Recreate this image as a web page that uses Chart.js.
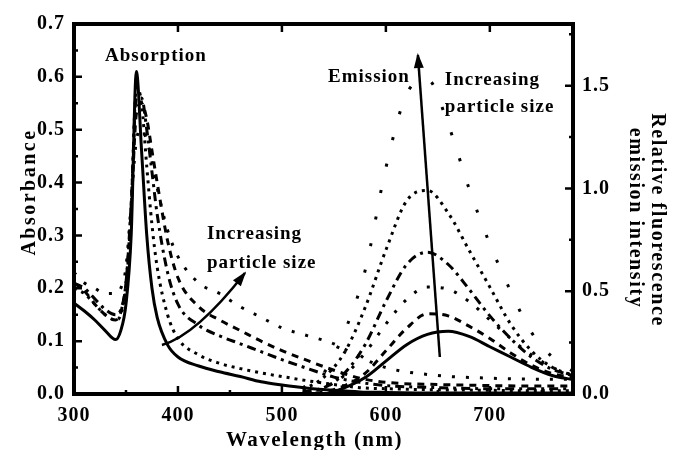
<!DOCTYPE html>
<html>
<head>
<meta charset="utf-8">
<script src="https://cdn.jsdelivr.net/npm/chart.js@4.4.1/dist/chart.umd.min.js"></script>
<style>
  html, body { margin: 0; padding: 0; background: #fff; }
  #wrap { width: 675px; height: 450px; }
</style>
</head>
<body>
<div id="wrap"><canvas id="chart"></canvas></div>
<script>
// Comprimentos de onda (nm)
var wlAbs = [300, 310, 320, 330, 340, 345, 350, 355, 360, 365, 370, 375, 380, 390, 400, 420, 440, 460, 480, 500, 525, 550, 575, 600, 650, 700, 750, 780]
var wlEm = [520, 540, 560, 580, 600, 620, 640, 660, 680, 700, 720, 740, 760, 780]

// Absorbância (eixo esquerdo), do menor para o maior tamanho de partícula
var abs1 = [0.172, 0.157, 0.14, 0.12, 0.103, 0.12, 0.17, 0.3, 0.61, 0.46, 0.3, 0.2, 0.145, 0.093, 0.07, 0.053, 0.042, 0.033, 0.023, 0.017, 0.011, 0.007, 0.004, 0.003, 0.002, 0.002, 0.002, 0.002]
var abs2 = [0.2, 0.19, 0.17, 0.15, 0.14, 0.15, 0.2, 0.35, 0.58, 0.55, 0.43, 0.32, 0.24, 0.15, 0.105, 0.074, 0.058, 0.048, 0.04, 0.033, 0.025, 0.018, 0.012, 0.01, 0.008, 0.007, 0.006, 0.006]
var abs3 = [0.21, 0.2, 0.18, 0.16, 0.15, 0.16, 0.21, 0.36, 0.56, 0.56, 0.5, 0.42, 0.34, 0.23, 0.17, 0.13, 0.11, 0.095, 0.08, 0.065, 0.048, 0.032, 0.022, 0.016, 0.012, 0.01, 0.01, 0.01]
var abs4 = [0.21, 0.195, 0.17, 0.15, 0.14, 0.155, 0.21, 0.35, 0.53, 0.55, 0.52, 0.46, 0.4, 0.29, 0.22, 0.165, 0.14, 0.12, 0.1, 0.082, 0.063, 0.045, 0.03, 0.022, 0.018, 0.016, 0.015, 0.015]
var abs5 = [0.23, 0.21, 0.2, 0.19, 0.19, 0.2, 0.24, 0.36, 0.48, 0.5, 0.48, 0.44, 0.39, 0.31, 0.26, 0.21, 0.19, 0.165, 0.145, 0.125, 0.11, 0.095, 0.07, 0.05, 0.035, 0.03, 0.028, 0.028]

// Emissão relativa (eixo direito)
var em1 = [0, 0, 0.03, 0.08, 0.16, 0.24, 0.29, 0.305, 0.28, 0.23, 0.18, 0.13, 0.09, 0.07]
var em2 = [0, 0.01, 0.04, 0.1, 0.21, 0.32, 0.39, 0.38, 0.33, 0.27, 0.2, 0.14, 0.1, 0.08]
var em3 = [0.01, 0.03, 0.09, 0.2, 0.34, 0.46, 0.52, 0.51, 0.45, 0.36, 0.27, 0.19, 0.13, 0.09]
var em4 = [0.01, 0.03, 0.1, 0.24, 0.45, 0.63, 0.69, 0.63, 0.51, 0.38, 0.27, 0.18, 0.12, 0.09]
var em5 = [0.02, 0.08, 0.2, 0.42, 0.7, 0.94, 0.99, 0.88, 0.7, 0.52, 0.34, 0.21, 0.13, 0.09]
var em6 = [0.03, 0.1, 0.3, 0.6, 1.1, 1.46, 1.53, 1.31, 1.0, 0.73, 0.5, 0.3, 0.18, 0.11]

// Rótulos dos eixos
var xTicks = [300, 400, 500, 600, 700]
var yTicks = [0, 0.1, 0.2, 0.3, 0.4, 0.5, 0.6, 0.7]
var y2Ticks = [0, 0.5, 1.0, 1.5]

// Estilos de linha (tracejados)
var absDash = [[], [3, 5], [9, 5, 3, 5], [7, 6], [3, 11]]
var emDash = [[], [7, 6], [3, 11], [9, 5, 3, 5], [3, 5], [3, 24]]

function pts(xs, ys) {
    return xs.map(function (x, i) { return { x: x, y: ys[i] } })
}

var datasets = []
;[abs1, abs2, abs3, abs4, abs5].forEach(function (s, i) {
    datasets.push({ label: 'Abs ' + (i + 1), data: pts(wlAbs, s), yAxisID: 'y', borderDash: absDash[i] })
})
;[em1, em2, em3, em4, em5, em6].forEach(function (s, i) {
    datasets.push({ label: 'Em ' + (i + 1), data: pts(wlEm, s), yAxisID: 'y2', borderDash: emDash[i] })
})
datasets.forEach(function (d) {
    d.borderColor = '#000'
    d.borderWidth = 3
    d.pointRadius = 0
    d.fill = false
    d.cubicInterpolationMode = 'monotone'
})

var serif = "'Liberation Serif', 'DejaVu Serif', serif"
var tickFont = { family: serif, weight: 'bold', size: 20 }

// Moldura, marcas internas, títulos e anotações
var framePlugin = {
    id: 'frame',
    beforeDraw: function (chart) {
        chart.ctx.letterSpacing = '1px'
    },
    afterDraw: function (chart) {
        let ctx = chart.ctx
        let a = chart.chartArea
        let sx = chart.scales.x, sy = chart.scales.y, sy2 = chart.scales.y2
        ctx.save()
        ctx.strokeStyle = '#000'
        ctx.fillStyle = '#000'

        // ticks
        ctx.lineWidth = 2.5
        ctx.beginPath()
        for (let v = 300; v <= 780; v += 50) {
            let px = sx.getPixelForValue(v)
            let len = v % 100 === 0 ? 8 : 4
            ctx.moveTo(px, a.bottom); ctx.lineTo(px, a.bottom - len)
            if (v % 100 === 0) { ctx.moveTo(px, a.top); ctx.lineTo(px, a.top + len) }
        }
        for (let i = 0; i <= 14; i++) {
            let py = sy.getPixelForValue(i * 0.05)
            let len = i % 2 === 0 ? 8 : 4
            ctx.moveTo(a.left, py); ctx.lineTo(a.left + len, py)
        }
        for (let i = 0; i <= 7; i++) {
            let py = sy2.getPixelForValue(i * 0.25)
            let len = i % 2 === 0 ? 8 : 4
            ctx.moveTo(a.right, py); ctx.lineTo(a.right - len, py)
        }
        ctx.stroke()

        // moldura
        ctx.lineWidth = 4
        ctx.strokeRect(a.left, a.top, a.right - a.left, a.bottom - a.top)

        // títulos dos eixos
        ctx.letterSpacing = '1.5px'
        ctx.font = 'bold 21px ' + serif
        ctx.textAlign = 'center'
        ctx.textBaseline = 'alphabetic'
        ctx.fillText('Wavelength (nm)', (a.left + a.right) / 2 - 9, 446)

        ctx.font = 'bold 20px ' + serif
        ctx.letterSpacing = '2.5px'
        ctx.save()
        ctx.translate(35, 192)
        ctx.rotate(-Math.PI / 2)
        ctx.fillText('Absorbance', 0, 0)
        ctx.restore()

        ctx.letterSpacing = '1.6px'
        ctx.save()
        ctx.translate(652, 220)
        ctx.rotate(Math.PI / 2)
        ctx.fillText('Relative fluorescence', 0, 0)
        ctx.restore()
        ctx.save()
        ctx.translate(630, 218)
        ctx.rotate(Math.PI / 2)
        ctx.fillText('emission intensity', 0, 0)
        ctx.restore()

        // anotações
        ctx.font = 'bold 19px ' + serif
        ctx.letterSpacing = '1px'
        ctx.textBaseline = 'middle'
        ctx.textAlign = 'center'
        ctx.fillText('Absorption', sx.getPixelForValue(378.8), sy.getPixelForValue(0.639))
        ctx.fillText('Emission', sx.getPixelForValue(583.7), sy.getPixelForValue(0.6))
        ctx.textAlign = 'left'
        ctx.fillText('Increasing', sx.getPixelForValue(656.7), sy.getPixelForValue(0.594))
        ctx.fillText('particle size', sx.getPixelForValue(656.7), sy.getPixelForValue(0.543))
        ctx.fillText('Increasing', sx.getPixelForValue(427.9), sy.getPixelForValue(0.303))
        ctx.fillText('particle size', sx.getPixelForValue(427.9), sy.getPixelForValue(0.248))

        // setas
        ctx.lineWidth = 2.5
        let e0x = sx.getPixelForValue(651.9), e0y = sy2.getPixelForValue(0.18)
        let e1x = sx.getPixelForValue(630.8), e1y = sy2.getPixelForValue(1.649)
        ctx.beginPath()
        ctx.moveTo(e0x, e0y); ctx.lineTo(e1x, e1y)
        ctx.stroke()
        arrowHead(ctx, e1x, e1y, Math.atan2(e1y - e0y, e1x - e0x))

        let p0x = sx.getPixelForValue(384.6), p0y = sy.getPixelForValue(0.0927)
        let cx = sx.getPixelForValue(417.8), cy = sy.getPixelForValue(0.1116)
        let p2x = sx.getPixelForValue(464.4), p2y = sy.getPixelForValue(0.229)
        ctx.beginPath()
        ctx.moveTo(p0x, p0y); ctx.quadraticCurveTo(cx, cy, p2x, p2y)
        ctx.stroke()
        arrowHead(ctx, p2x, p2y, Math.atan2(p2y - cy, p2x - cx))
        ctx.restore()
    }
}

function arrowHead(ctx, x, y, ang) {
    let l = 13, w = 5
    ctx.beginPath()
    ctx.moveTo(x + Math.cos(ang) * 2, y + Math.sin(ang) * 2)
    ctx.lineTo(x - Math.cos(ang) * l - Math.sin(ang) * w, y - Math.sin(ang) * l + Math.cos(ang) * w)
    ctx.lineTo(x - Math.cos(ang) * l + Math.sin(ang) * w, y - Math.sin(ang) * l - Math.cos(ang) * w)
    ctx.closePath()
    ctx.fill()
}

new Chart(document.getElementById('chart'), {
    type: 'line',
    data: { datasets: datasets },
    options: {
        responsive: true,
        maintainAspectRatio: false,
        animation: false,
        layout: { padding: { top: 24, left: 0, right: 0, bottom: 0 } },
        plugins: { legend: { display: false }, tooltip: { enabled: false } },
        scales: {
            x: {
                type: 'linear', min: 300, max: 780,
                grid: { display: false, drawTicks: false },
                border: { display: false },
                afterBuildTicks: function (ax) { ax.ticks = xTicks.map(function (v) { return { value: v } }) },
                afterFit: function (ax) { ax.height = 56 },
                ticks: { padding: 10, color: '#000', font: tickFont, maxRotation: 0, callback: function (v) { return String(v) } }
            },
            y: {
                type: 'linear', position: 'left', min: 0, max: 0.7,
                grid: { display: false, drawTicks: false },
                border: { display: false },
                afterBuildTicks: function (ax) { ax.ticks = yTicks.map(function (v) { return { value: v } }) },
                afterFit: function (ax) { ax.width = 74 },
                ticks: { padding: 9, color: '#000', font: tickFont, callback: function (v) { return v.toFixed(1) } }
            },
            y2: {
                type: 'linear', position: 'right', min: 0, max: 1.8,
                grid: { display: false, drawTicks: false },
                border: { display: false },
                afterBuildTicks: function (ax) { ax.ticks = y2Ticks.map(function (v) { return { value: v } }) },
                afterFit: function (ax) { ax.width = 102 },
                ticks: { padding: 9, color: '#000', font: tickFont, callback: function (v) { return v.toFixed(1) } }
            }
        }
    },
    plugins: [framePlugin]
})
</script>
</body>
</html>
